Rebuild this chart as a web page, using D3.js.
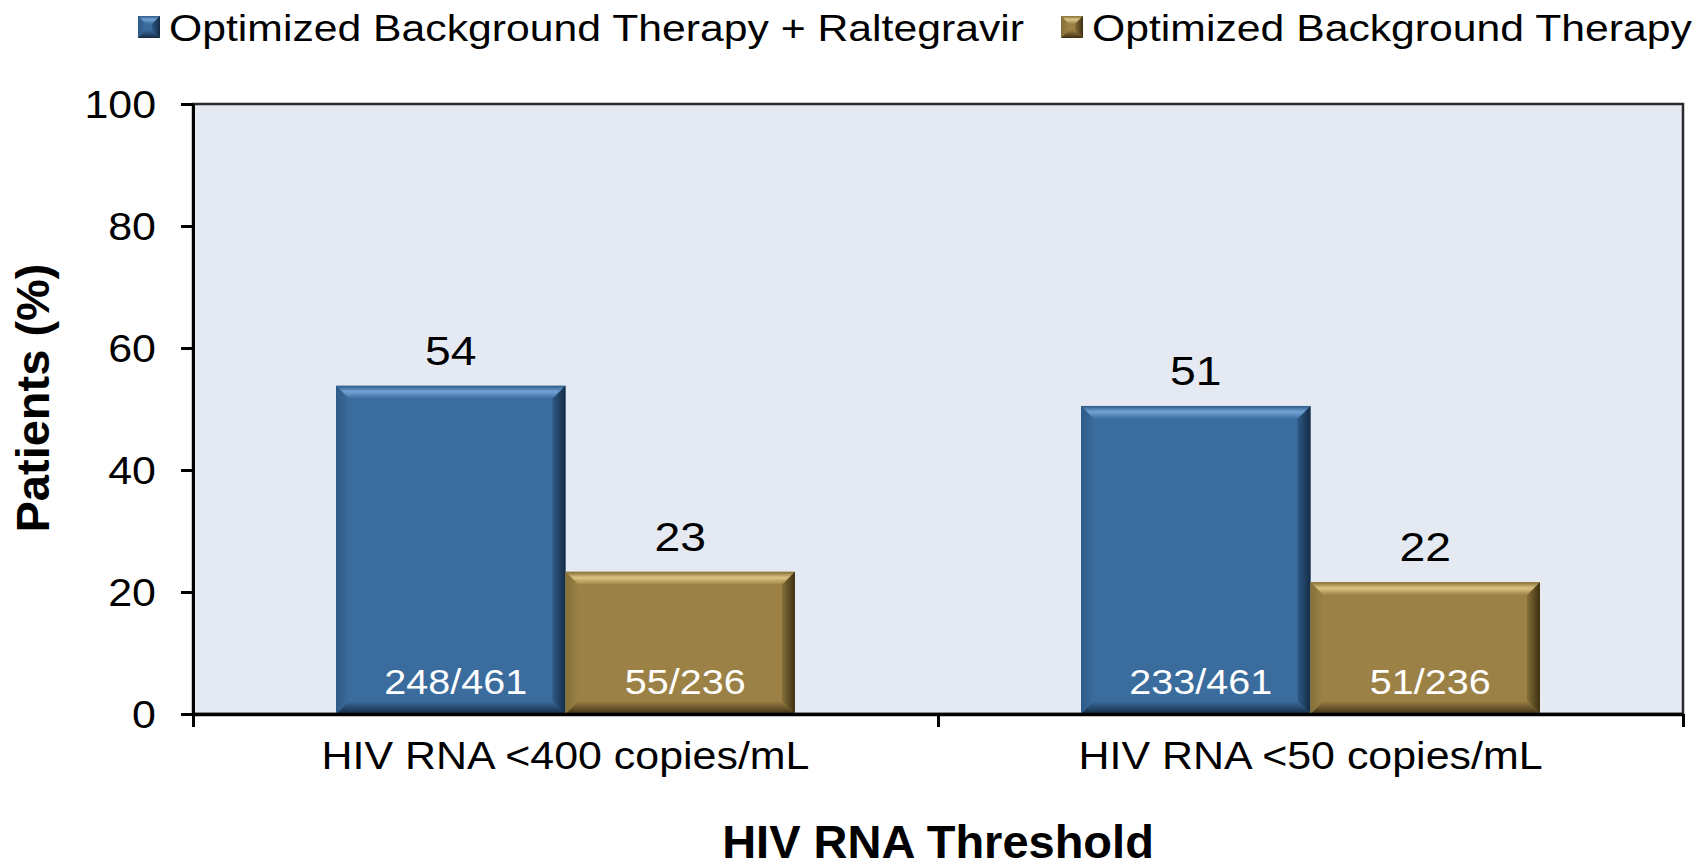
<!DOCTYPE html>
<html>
<head>
<meta charset="utf-8">
<title>HIV RNA Threshold</title>
<script src="https://cdn.jsdelivr.net/npm/d3@7"></script>
<style>
    body { margin: 0; background: #fff; }
    svg text { font-family: "Liberation Sans", Arial, Helvetica, sans-serif; fill: #000; }
</style>
</head>
<body>
<svg id="chart" width="1707" height="864"></svg>
<script>
// data
var categories = ["HIV RNA <400 copies/mL", "HIV RNA <50 copies/mL"];
var seriesNames = ["Optimized Background Therapy + Raltegravir", "Optimized Background Therapy"];
var raltegravirPct = [53.8, 50.5];
var obtPct = [23.3, 21.6];
var raltegravirLabels = ["54", "51"];
var obtLabels = ["23", "22"];
var raltegravirCounts = ["248/461", "233/461"];
var obtCounts = ["55/236", "51/236"];
var yTicks = [0, 20, 40, 60, 80, 100];

var SX = 1.13; // regular text in the source is a little wide
var colors = [
    { base: "#3a6c9d", light: "#73a3d6", dark: "#142b44", mid: "#2e5a86" },
    { base: "#9c8146", light: "#dcc483", dark: "#3d2f12", mid: "#857038" }
];

var svg = d3.select("#chart");
var plotLeft = 193, plotRight = 1683, plotTop = 104, plotBottom = 714;

var y = d3.scaleLinear().domain([0, 100]).range([plotBottom, plotTop]);
var x0 = d3.scaleBand().domain(categories).range([plotLeft, plotRight]).padding(0);
var x1 = d3.scaleBand().domain([0, 1]).range([x0.bandwidth() * 0.192, x0.bandwidth() * 0.808]).padding(0);

// gradients for the bevels
var defs = svg.append("defs");
colors.forEach(function(c, i) {
    var g = defs.append("linearGradient").attr("id", "top" + i).attr("x1", 0).attr("y1", 0).attr("x2", 0).attr("y2", 1);
    g.append("stop").attr("offset", "0%").attr("stop-color", c.mid);
    g.append("stop").attr("offset", "45%").attr("stop-color", c.light);
    g.append("stop").attr("offset", "100%").attr("stop-color", c.base);
    var r = defs.append("linearGradient").attr("id", "right" + i).attr("x1", 0).attr("y1", 0).attr("x2", 1).attr("y2", 0);
    r.append("stop").attr("offset", "0%").attr("stop-color", c.mid);
    r.append("stop").attr("offset", "100%").attr("stop-color", c.dark);
    var l = defs.append("linearGradient").attr("id", "left" + i).attr("x1", 0).attr("y1", 0).attr("x2", 1).attr("y2", 0);
    l.append("stop").attr("offset", "0%").attr("stop-color", c.mid);
    l.append("stop").attr("offset", "100%").attr("stop-color", c.base);
    var b = defs.append("linearGradient").attr("id", "bottom" + i).attr("x1", 0).attr("y1", 0).attr("x2", 0).attr("y2", 1);
    b.append("stop").attr("offset", "0%").attr("stop-color", c.base);
    b.append("stop").attr("offset", "100%").attr("stop-color", c.dark);
});

function bevelBox(g, x, yTop, w, h, bv, i) {
    var c = colors[i];
    g.append("rect").attr("x", x).attr("y", yTop).attr("width", w).attr("height", h).attr("fill", c.base);
    var pts = function(a) { return a.map(function(p) { return p.join(","); }).join(" "); };
    g.append("polygon").attr("fill", "url(#top" + i + ")")
        .attr("points", pts([[x, yTop], [x + w, yTop], [x + w - bv, yTop + bv], [x + bv, yTop + bv]]));
    g.append("polygon").attr("fill", "url(#left" + i + ")")
        .attr("points", pts([[x, yTop], [x + bv, yTop + bv], [x + bv, yTop + h - bv], [x, yTop + h]]));
    g.append("polygon").attr("fill", "url(#right" + i + ")")
        .attr("points", pts([[x + w, yTop], [x + w, yTop + h], [x + w - bv, yTop + h - bv], [x + w - bv, yTop + bv]]));
    g.append("polygon").attr("fill", "url(#bottom" + i + ")")
        .attr("points", pts([[x, yTop + h], [x + bv, yTop + h - bv], [x + w - bv, yTop + h - bv], [x + w, yTop + h]]));
}

function wideText(g, x, yy, str, size, anchor) {
    return g.append("text")
        .attr("transform", "translate(" + x + "," + yy + ") scale(" + SX + ",1)")
        .attr("text-anchor", anchor || "middle")
        .style("font-size", size + "px")
        .text(str);
}

// plot background with frame
svg.append("rect").attr("x", plotLeft).attr("y", plotTop).attr("width", plotRight - plotLeft).attr("height", plotBottom - plotTop)
    .attr("fill", "#e4e9f2").attr("stroke", "#2a2a2a").attr("stroke-width", 2.5);

// bars
var rows = categories.map(function(c, i) {
    return [
        { cat: c, s: 0, v: raltegravirPct[i], label: raltegravirLabels[i], count: raltegravirCounts[i] },
        { cat: c, s: 1, v: obtPct[i], label: obtLabels[i], count: obtCounts[i] }
    ];
});
var barLayer = svg.append("g");
rows.forEach(function(row) {
    row.forEach(function(d) {
        var bx = x0(d.cat) + x1(d.s), bw = x1.bandwidth();
        var by = y(d.v), bh = y(0) - y(d.v);
        bevelBox(barLayer, bx, by, bw, bh, 13, d.s);
        wideText(barLayer, bx + bw / 2, by - 21, d.label, 41);
        wideText(barLayer, bx + bw / 2 + 5, 694, d.count, 35).style("fill", "#fff");
    });
});

// y axis
var yAxis = svg.append("g").attr("transform", "translate(" + plotLeft + ",0)")
    .call(d3.axisLeft(y).tickValues(yTicks).tickSize(12).tickSizeOuter(0));
yAxis.select(".domain").attr("stroke", "#000").attr("stroke-width", 3);
yAxis.selectAll(".tick line").attr("stroke", "#000").attr("stroke-width", 3);
yAxis.selectAll(".tick text").attr("x", null).attr("dy", "0.36em")
    .attr("transform", "translate(-37,0) scale(" + SX + ",1)")
    .style("font-size", "38px").attr("font-family", null).attr("fill", "#000");

// x axis: ticks sit on the category edges
var xEdge = d3.scaleLinear().domain([0, categories.length]).range([plotLeft, plotRight]);
var xAxis = svg.append("g").attr("transform", "translate(0," + plotBottom + ")")
    .call(d3.axisBottom(xEdge).tickValues(d3.range(categories.length + 1)).tickSize(13).tickSizeOuter(0).tickFormat(""));
xAxis.select(".domain").attr("stroke", "#000").attr("stroke-width", 3.5);
xAxis.selectAll(".tick line").attr("stroke", "#000").attr("stroke-width", 3);
categories.forEach(function(c) {
    wideText(svg, x0(c) + x0.bandwidth() / 2, 769, c, 38);
});

// axis titles
svg.append("text").attr("x", (plotLeft + plotRight) / 2).attr("y", 858).attr("text-anchor", "middle")
    .style("font-size", "47px").style("font-weight", "bold").text("HIV RNA Threshold");
svg.append("text").attr("transform", "translate(49,398) rotate(-90)").attr("text-anchor", "middle")
    .style("font-size", "47px").style("font-weight", "bold").text("Patients (%)");

// legend
var legend = svg.append("g");
var lx = 138;
seriesNames.forEach(function(name, i) {
    bevelBox(legend, lx, 16, 22, 22, 8, i);
    var t = wideText(legend, lx + 31, 41, name, 37.8, "start");
    lx += 31 + t.node().getBBox().width * SX + 37;
});
</script>
</body>
</html>
